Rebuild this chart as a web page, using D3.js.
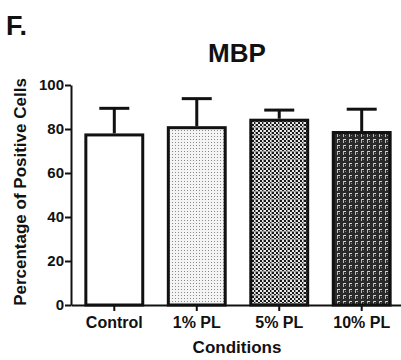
<!DOCTYPE html>
<html>
<head>
<meta charset="utf-8">
<script src="https://cdn.jsdelivr.net/npm/d3@7"></script>
<style>
  html, body { margin: 0; padding: 0; background: #fff; }
  svg { display: block; }
  text { font-family: "Liberation Sans", Arial, sans-serif; font-weight: bold; fill: #111; }
</style>
</head>
<body>
<svg id="chart" width="401" height="360"></svg>
<script>
// Data
const categories = ["Control", "1% PL", "5% PL", "10% PL"];
const means = [77.3, 80.6, 84.0, 78.4];
const sems = [12.1, 13.2, 4.6, 10.6];
const yTicks = [0, 20, 40, 60, 80, 100];

const svg = d3.select("#chart");
const defs = svg.append("defs");

// Fill patterns for each condition
// 1% PL: sparse light dots
const p1 = defs.append("pattern").attr("id", "pat1").attr("patternUnits", "userSpaceOnUse")
  .attr("width", 3).attr("height", 3);
p1.append("rect").attr("width", 3).attr("height", 3).attr("fill", "#f4f4f4");
p1.append("rect").attr("x", 1).attr("y", 1).attr("width", 1).attr("height", 1).attr("fill", "#8a8a8a");

// 5% PL: checkerboard with lighter grid lines
const p2 = defs.append("pattern").attr("id", "pat2").attr("patternUnits", "userSpaceOnUse")
  .attr("width", 8).attr("height", 8);
p2.append("rect").attr("width", 8).attr("height", 8).attr("fill", "#e8e8e8");
[[0,0],[4,0],[2,2],[6,2],[0,4],[4,4],[2,6],[6,6]].forEach(([x, y]) =>
  p2.append("rect").attr("x", x).attr("y", y).attr("width", 2).attr("height", 2).attr("fill", "#1a1a1a"));
p2.append("rect").attr("x", 7).attr("y", 0).attr("width", 1).attr("height", 8).attr("fill", "#9a9a9a");
p2.append("rect").attr("x", 0).attr("y", 7).attr("width", 8).attr("height", 1).attr("fill", "#9a9a9a");

// 10% PL: dark ground with light L-shaped marks
const p3 = defs.append("pattern").attr("id", "pat3").attr("patternUnits", "userSpaceOnUse")
  .attr("width", 6).attr("height", 6);
p3.append("rect").attr("width", 6).attr("height", 6).attr("fill", "#2a2a2a");
p3.append("rect").attr("x", 1).attr("y", 1).attr("width", 3).attr("height", 1).attr("fill", "#d8d8d8");
p3.append("rect").attr("x", 1).attr("y", 1).attr("width", 1).attr("height", 4).attr("fill", "#bdbdbd");
p3.append("rect").attr("x", 3).attr("y", 3).attr("width", 1).attr("height", 1).attr("fill", "#888");

const fills = ["#ffffff", "url(#pat1)", "url(#pat2)", "url(#pat3)"];

// Scales
const x = d3.scaleBand().domain(categories).range([71, 405])
  .paddingInner(0.31).paddingOuter(0.18);
const y = d3.scaleLinear().domain([0, 100]).range([305, 85]);

// Bars
const g = svg.append("g");
g.selectAll("rect.bar").data(categories).join("rect")
  .attr("class", "bar")
  .attr("x", d => x(d))
  .attr("y", (d, i) => y(means[i]))
  .attr("width", x.bandwidth())
  .attr("height", (d, i) => y(0) - y(means[i]))
  .attr("fill", (d, i) => fills[i])
  .attr("stroke", "#111")
  .attr("stroke-width", 3);

// Error bars (mean + SEM)
const capW = 30;
g.selectAll("line.err").data(categories).join("line")
  .attr("class", "err")
  .attr("x1", d => x(d) + x.bandwidth() / 2)
  .attr("x2", d => x(d) + x.bandwidth() / 2)
  .attr("y1", (d, i) => y(means[i]) - 1.5)
  .attr("y2", (d, i) => y(means[i] + sems[i]))
  .attr("stroke", "#111").attr("stroke-width", 3);
g.selectAll("line.cap").data(categories).join("line")
  .attr("class", "cap")
  .attr("x1", d => x(d) + x.bandwidth() / 2 - capW / 2)
  .attr("x2", d => x(d) + x.bandwidth() / 2 + capW / 2)
  .attr("y1", (d, i) => y(means[i] + sems[i]))
  .attr("y2", (d, i) => y(means[i] + sems[i]))
  .attr("stroke", "#111").attr("stroke-width", 3);

// Axes
const yAxis = svg.append("g").attr("transform", "translate(71,0)")
  .call(d3.axisLeft(y).tickValues(yTicks).tickSize(6).tickPadding(1).tickSizeOuter(0));
yAxis.select(".domain").attr("stroke", "#111").attr("stroke-width", 2);
yAxis.selectAll(".tick line").attr("stroke", "#111").attr("stroke-width", 2);
yAxis.selectAll(".tick text").style("font-size", "15px").style("font-family", "Liberation Sans, Arial, sans-serif")
  .style("font-weight", "bold").attr("fill", "#111");

const xAxis = svg.append("g").attr("transform", "translate(0,305)")
  .call(d3.axisBottom(x).tickSize(6).tickPadding(6).tickSizeOuter(0));
xAxis.select(".domain").attr("stroke", "#111").attr("stroke-width", 2);
xAxis.selectAll(".tick line").attr("stroke", "#111").attr("stroke-width", 2);
xAxis.selectAll(".tick text").style("font-size", "16px").style("font-family", "Liberation Sans, Arial, sans-serif")
  .style("font-weight", "bold").attr("fill", "#111");

// Titles
svg.append("text").attr("x", 6).attr("y", 35).style("font-size", "27px").text("F.");
svg.append("text").attr("x", 237).attr("y", 62).attr("text-anchor", "middle")
  .style("font-size", "26px").text("MBP");
svg.append("text").attr("x", 237).attr("y", 353).attr("text-anchor", "middle")
  .style("font-size", "17px").text("Conditions");
svg.append("text").attr("transform", "translate(26,192) rotate(-90)")
  .attr("text-anchor", "middle").style("font-size", "17px").text("Percentage of Positive Cells");
</script>
</body>
</html>
